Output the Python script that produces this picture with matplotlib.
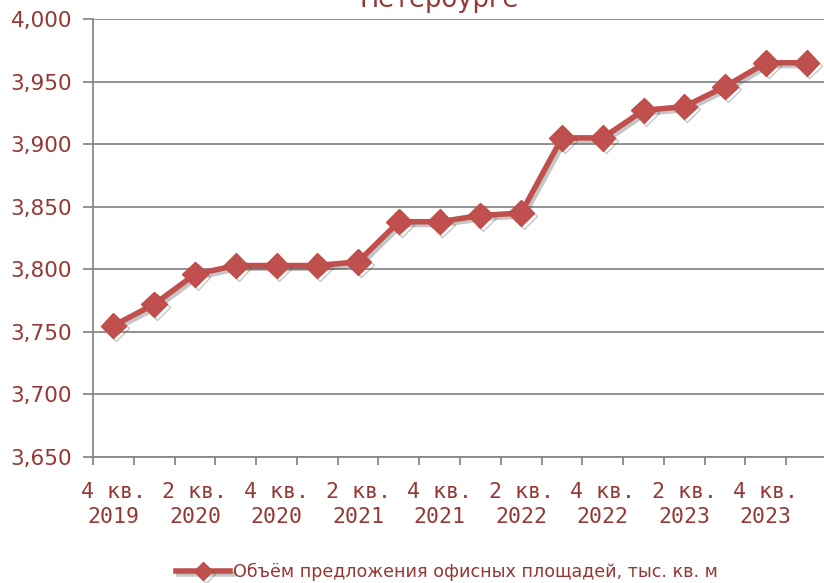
import matplotlib
matplotlib.use('Agg')
import matplotlib.pyplot as plt
import matplotlib.patheffects as pe
from matplotlib.ticker import FuncFormatter, FixedLocator
import numpy as np

quarters = ['4 кв.\n2019', '1 кв.\n2020', '2 кв.\n2020', '3 кв.\n2020', '4 кв.\n2020',
            '1 кв.\n2021', '2 кв.\n2021', '3 кв.\n2021', '4 кв.\n2021', '1 кв.\n2022',
            '2 кв.\n2022', '3 кв.\n2022', '4 кв.\n2022', '1 кв.\n2023', '2 кв.\n2023',
            '3 кв.\n2023', '4 кв.\n2023', '1 кв.\n2024']
supply = [3755, 3772, 3796, 3803, 3803, 3803, 3806, 3838, 3838, 3843,
          3845, 3905, 3905, 3927, 3930, 3946, 3965, 3965]
series_label = 'Объём предложения офисных площадей, тыс. кв. м'
title_tail = 'Петербурге'

text_col = '#953735'
line_col = '#c0504d'
grid_col = '#888888'

fig = plt.figure(figsize=(8.24, 5.83), dpi=100)
ax = fig.add_axes([93 / 824, 1 - 457 / 583, (827 - 93) / 824, (457 - 19) / 583])

xs = np.arange(len(supply))
# soft drop shadow like the office chart
shadow = [pe.SimpleLineShadow(offset=(2, -2), alpha=0.3, shadow_color='#444444'), pe.Normal()]
ln, = ax.plot(xs, supply, color=line_col, lw=4.0, marker='D', markersize=13,
              markerfacecolor=line_col, markeredgecolor='#c44b48', zorder=3,
              label=series_label, path_effects=shadow)

ax.set_xlim(-0.5, len(supply) - 0.5)
ax.set_ylim(3650, 4000)
ax.set_yticks(np.arange(3650, 4001, 50))
ax.yaxis.set_major_formatter(FuncFormatter(lambda v, p: f'{int(v):,}'))
ax.grid(axis='y', color=grid_col, lw=1.3)
ax.set_axisbelow(True)

ax.xaxis.set_major_locator(FixedLocator(xs[::2]))
ax.set_xticklabels([quarters[i] for i in xs[::2]], family='DejaVu Sans Mono')
ax.xaxis.set_minor_locator(FixedLocator(np.arange(-0.5, len(supply), 1.0)))
ax.tick_params(axis='x', which='major', length=0, pad=18, labelsize=15.5, labelcolor=text_col)
ax.tick_params(axis='x', which='minor', length=6, width=1.3, color=grid_col, direction='out')
ax.tick_params(axis='y', length=7, width=1.3, color=grid_col, labelsize=15.5,
               labelcolor=text_col, pad=8)
for lab in ax.get_xticklabels():
    lab.set_linespacing(1.3)

for s in ['top', 'right']:
    ax.spines[s].set_visible(False)
ax.spines['left'].set_color(grid_col)
ax.spines['left'].set_linewidth(1.3)
ax.spines['bottom'].set_color(grid_col)
ax.spines['bottom'].set_linewidth(1.3)

fig.text(439 / 824, 1 - 7 / 583, title_tail, ha='center', va='baseline',
         fontsize=18.5, color=text_col)

fig.legend(handles=[ln], loc='center', bbox_to_anchor=(447 / 824, 1 - 572 / 583),
           frameon=False, fontsize=12.6, labelcolor=text_col, handlelength=3.1,
           handletextpad=0.15, markerscale=0.7)

fig.savefig('out.png', dpi=100)
